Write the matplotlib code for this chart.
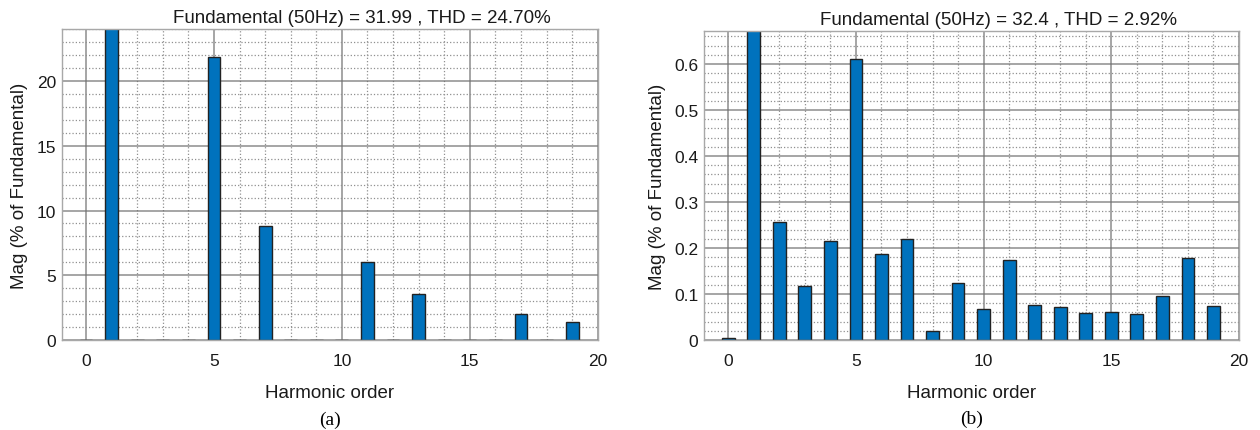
import numpy as np
import matplotlib.pyplot as plt
from matplotlib.ticker import MultipleLocator, FuncFormatter

# harmonic spectra
harmonics = list(range(20))
mag_a = [0, 100, 0, 0, 0, 21.85, 0, 8.82, 0, 0, 0, 6.05, 0, 3.56, 0, 0, 0, 2.03, 0, 1.38]
mag_b = [0.004, 100, 0.256, 0.118, 0.216, 0.61, 0.187, 0.219, 0.020, 0.123,
         0.067, 0.173, 0.076, 0.072, 0.058, 0.060, 0.057, 0.096, 0.178, 0.075]
titles = ['Fundamental (50Hz) = 31.99 , THD = 24.70%',
          'Fundamental (50Hz) = 32.4 , THD = 2.92%']
captions = ['(a)', '(b)']

plt.rcParams['font.family'] = ['Liberation Sans', 'DejaVu Sans']

fig = plt.figure(figsize=(12.6, 4.31), dpi=100)
ax_a = fig.add_axes([0.049, 0.2088, 0.4254, 0.721])
ax_b = fig.add_axes([0.5587, 0.2088, 0.4246, 0.717])

setups = [
    (ax_a, mag_a, 24.0, 5, 1, titles[0], captions[0], 0.56),
    (ax_b, mag_b, 0.672, 0.1, 0.02, titles[1], captions[1], 0.55),
]

for ax, mags, ytop, ymaj, ymin, title, cap, tx in setups:
    ax.set_axisbelow(True)
    ax.bar(harmonics, mags, width=0.5, color='#0072BD', edgecolor='#222222',
           linewidth=1.0, zorder=2)
    ax.set_xlim(-0.95, 20)
    ax.set_ylim(0, ytop)
    ax.xaxis.set_major_locator(MultipleLocator(5))
    ax.xaxis.set_minor_locator(MultipleLocator(1))
    ax.yaxis.set_major_locator(MultipleLocator(ymaj))
    ax.yaxis.set_minor_locator(MultipleLocator(ymin))
    ax.yaxis.set_major_formatter(FuncFormatter(lambda v, p: '%g' % round(v, 6)))
    ax.grid(which='major', color='#707070', linewidth=1.1, alpha=0.8)
    ax.grid(which='minor', color='#909090', linestyle=':', linewidth=0.9)
    ax.tick_params(which='both', length=0, labelsize=12.5, colors='#1a1a1a')
    ax.tick_params(axis='x', pad=9)
    ax.tick_params(axis='y', pad=4)
    for s in ax.spines.values():
        s.set_color('#a8a8a8')
        s.set_linewidth(1.0)
    ax.set_xlabel('Harmonic order', fontsize=13.5, labelpad=12, color='#1a1a1a')
    ax.set_ylabel('Mag (% of Fundamental)', fontsize=13.5, labelpad=6, color='#1a1a1a')
    ax.text(tx, 1.01, title, transform=ax.transAxes, ha='center', va='bottom',
            fontsize=13.5, color='#1a1a1a')
    ax.text(0.5, -0.255, cap, transform=ax.transAxes, ha='center', va='center',
            fontsize=14, family=['Liberation Serif', 'DejaVu Serif'])

fig.savefig('out.png', dpi=100)
